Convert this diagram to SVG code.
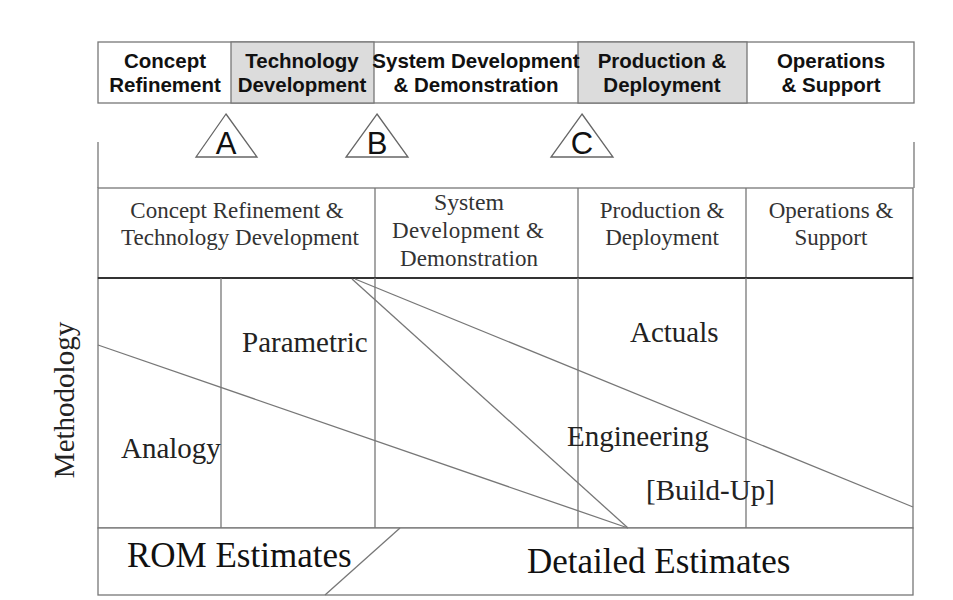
<svg xmlns="http://www.w3.org/2000/svg" width="953" height="600" viewBox="0 0 953 600">
<style>
.ln{stroke:#777;stroke-width:1.3;fill:none}
.bx{stroke:#777;stroke-width:1.3;fill:#fff}
.gr{stroke:#777;stroke-width:1.3;fill:#dcdcdc}
.hd{font-family:"Liberation Sans",Arial,sans-serif;font-weight:bold;font-size:20.5px;fill:#111;text-anchor:middle}
.tri{stroke:#666;stroke-width:1.3;fill:#fff}
.tl{font-family:"Liberation Sans",Arial,sans-serif;font-size:31px;fill:#111;text-anchor:middle}
.ph{font-family:"Liberation Serif","Times New Roman",serif;font-size:23px;fill:#333;text-anchor:middle}
.mt{font-family:"Liberation Serif","Times New Roman",serif;font-size:29px;fill:#222}
.es{font-family:"Liberation Serif","Times New Roman",serif;font-size:35px;fill:#111}
</style>
<rect width="953" height="600" fill="#fff"/>
<g id="top-phases">
<rect class="bx" x="98" y="42" width="816" height="61"/>
<rect class="gr" x="231" y="42" width="143" height="61"/>
<rect class="gr" x="578" y="42" width="169" height="61"/>
<text class="hd" x="165" y="68">Concept</text><text class="hd" x="165" y="92">Refinement</text>
<text class="hd" x="302" y="68">Technology</text><text class="hd" x="302" y="92">Development</text>
<text class="hd" x="476" y="68">System Development</text><text class="hd" x="476" y="92">&amp; Demonstration</text>
<text class="hd" x="662" y="68">Production &amp;</text><text class="hd" x="662" y="92">Deployment</text>
<text class="hd" x="831" y="68">Operations</text><text class="hd" x="831" y="92">&amp; Support</text>
</g>
<g id="milestone-A"><polygon class="tri" points="226,114 257,157 196,157"/><text class="tl" x="226" y="154">A</text></g>
<g id="milestone-B"><polygon class="tri" points="377,114 408,157 346,157"/><text class="tl" x="377" y="154">B</text></g>
<g id="milestone-C"><polygon class="tri" points="582,114 613,157 551,157"/><text class="tl" x="582" y="154">C</text></g>
<g id="brackets">
<line class="ln" x1="98" y1="142" x2="98" y2="188"/>
<line class="ln" x1="914" y1="142" x2="914" y2="188"/>
</g>
<g id="phase-table">
<rect class="bx" x="98" y="188" width="815" height="90"/>
<line class="ln" x1="375" y1="188" x2="375" y2="278"/>
<line class="ln" x1="578" y1="188" x2="578" y2="278"/>
<line class="ln" x1="746" y1="188" x2="746" y2="278"/>
<text class="ph" x="237" y="218">Concept Refinement &amp;</text>
<text class="ph" x="240" y="245">Technology Development</text>
<text class="ph" x="469" y="210" style="font-size:22.5px" textLength="70" lengthAdjust="spacingAndGlyphs">System</text>
<text class="ph" x="468" y="238" textLength="152" lengthAdjust="spacing">Development &amp;</text>
<text class="ph" x="469" y="266" textLength="138" lengthAdjust="spacing">Demonstration</text>
<text class="ph" x="662" y="218">Production &amp;</text>
<text class="ph" x="662" y="245">Deployment</text>
<text class="ph" x="831" y="218">Operations &amp;</text>
<text class="ph" x="831" y="245">Support</text>
</g>
<g id="methodology-grid">
<rect class="bx" x="98" y="278" width="815" height="250"/>
<line x1="98" y1="278" x2="913" y2="278" stroke="#333" stroke-width="1.8"/>
<line class="ln" x1="221" y1="278" x2="221" y2="528"/>
<line class="ln" x1="375" y1="278" x2="375" y2="528"/>
<line class="ln" x1="578" y1="278" x2="578" y2="528"/>
<line class="ln" x1="746" y1="278" x2="746" y2="528" stroke="#999"/>
</g>
<g id="estimates">
<rect class="bx" x="98" y="528" width="815" height="67"/>
<text class="es" x="127" y="567">ROM Estimates</text>
<text class="es" x="527" y="573">Detailed Estimates</text>
</g>
<g id="connectors">
<line class="ln" x1="98" y1="345" x2="628" y2="528"/>
<line class="ln" x1="352" y1="279" x2="628" y2="528"/>
<line class="ln" x1="355" y1="279" x2="913" y2="507"/>
<line class="ln" x1="400" y1="528" x2="325" y2="595"/>
</g>
<g id="labels">
<text class="mt" x="242" y="352">Parametric</text>
<text class="mt" x="630" y="342">Actuals</text>
<text class="mt" x="121" y="458">Analogy</text>
<text class="mt" x="567" y="446">Engineering</text>
<text class="mt" x="646" y="500">[Build-Up]</text>
<text class="mt" transform="translate(74,400) rotate(-90)" text-anchor="middle">Methodology</text>
</g>
</svg>
